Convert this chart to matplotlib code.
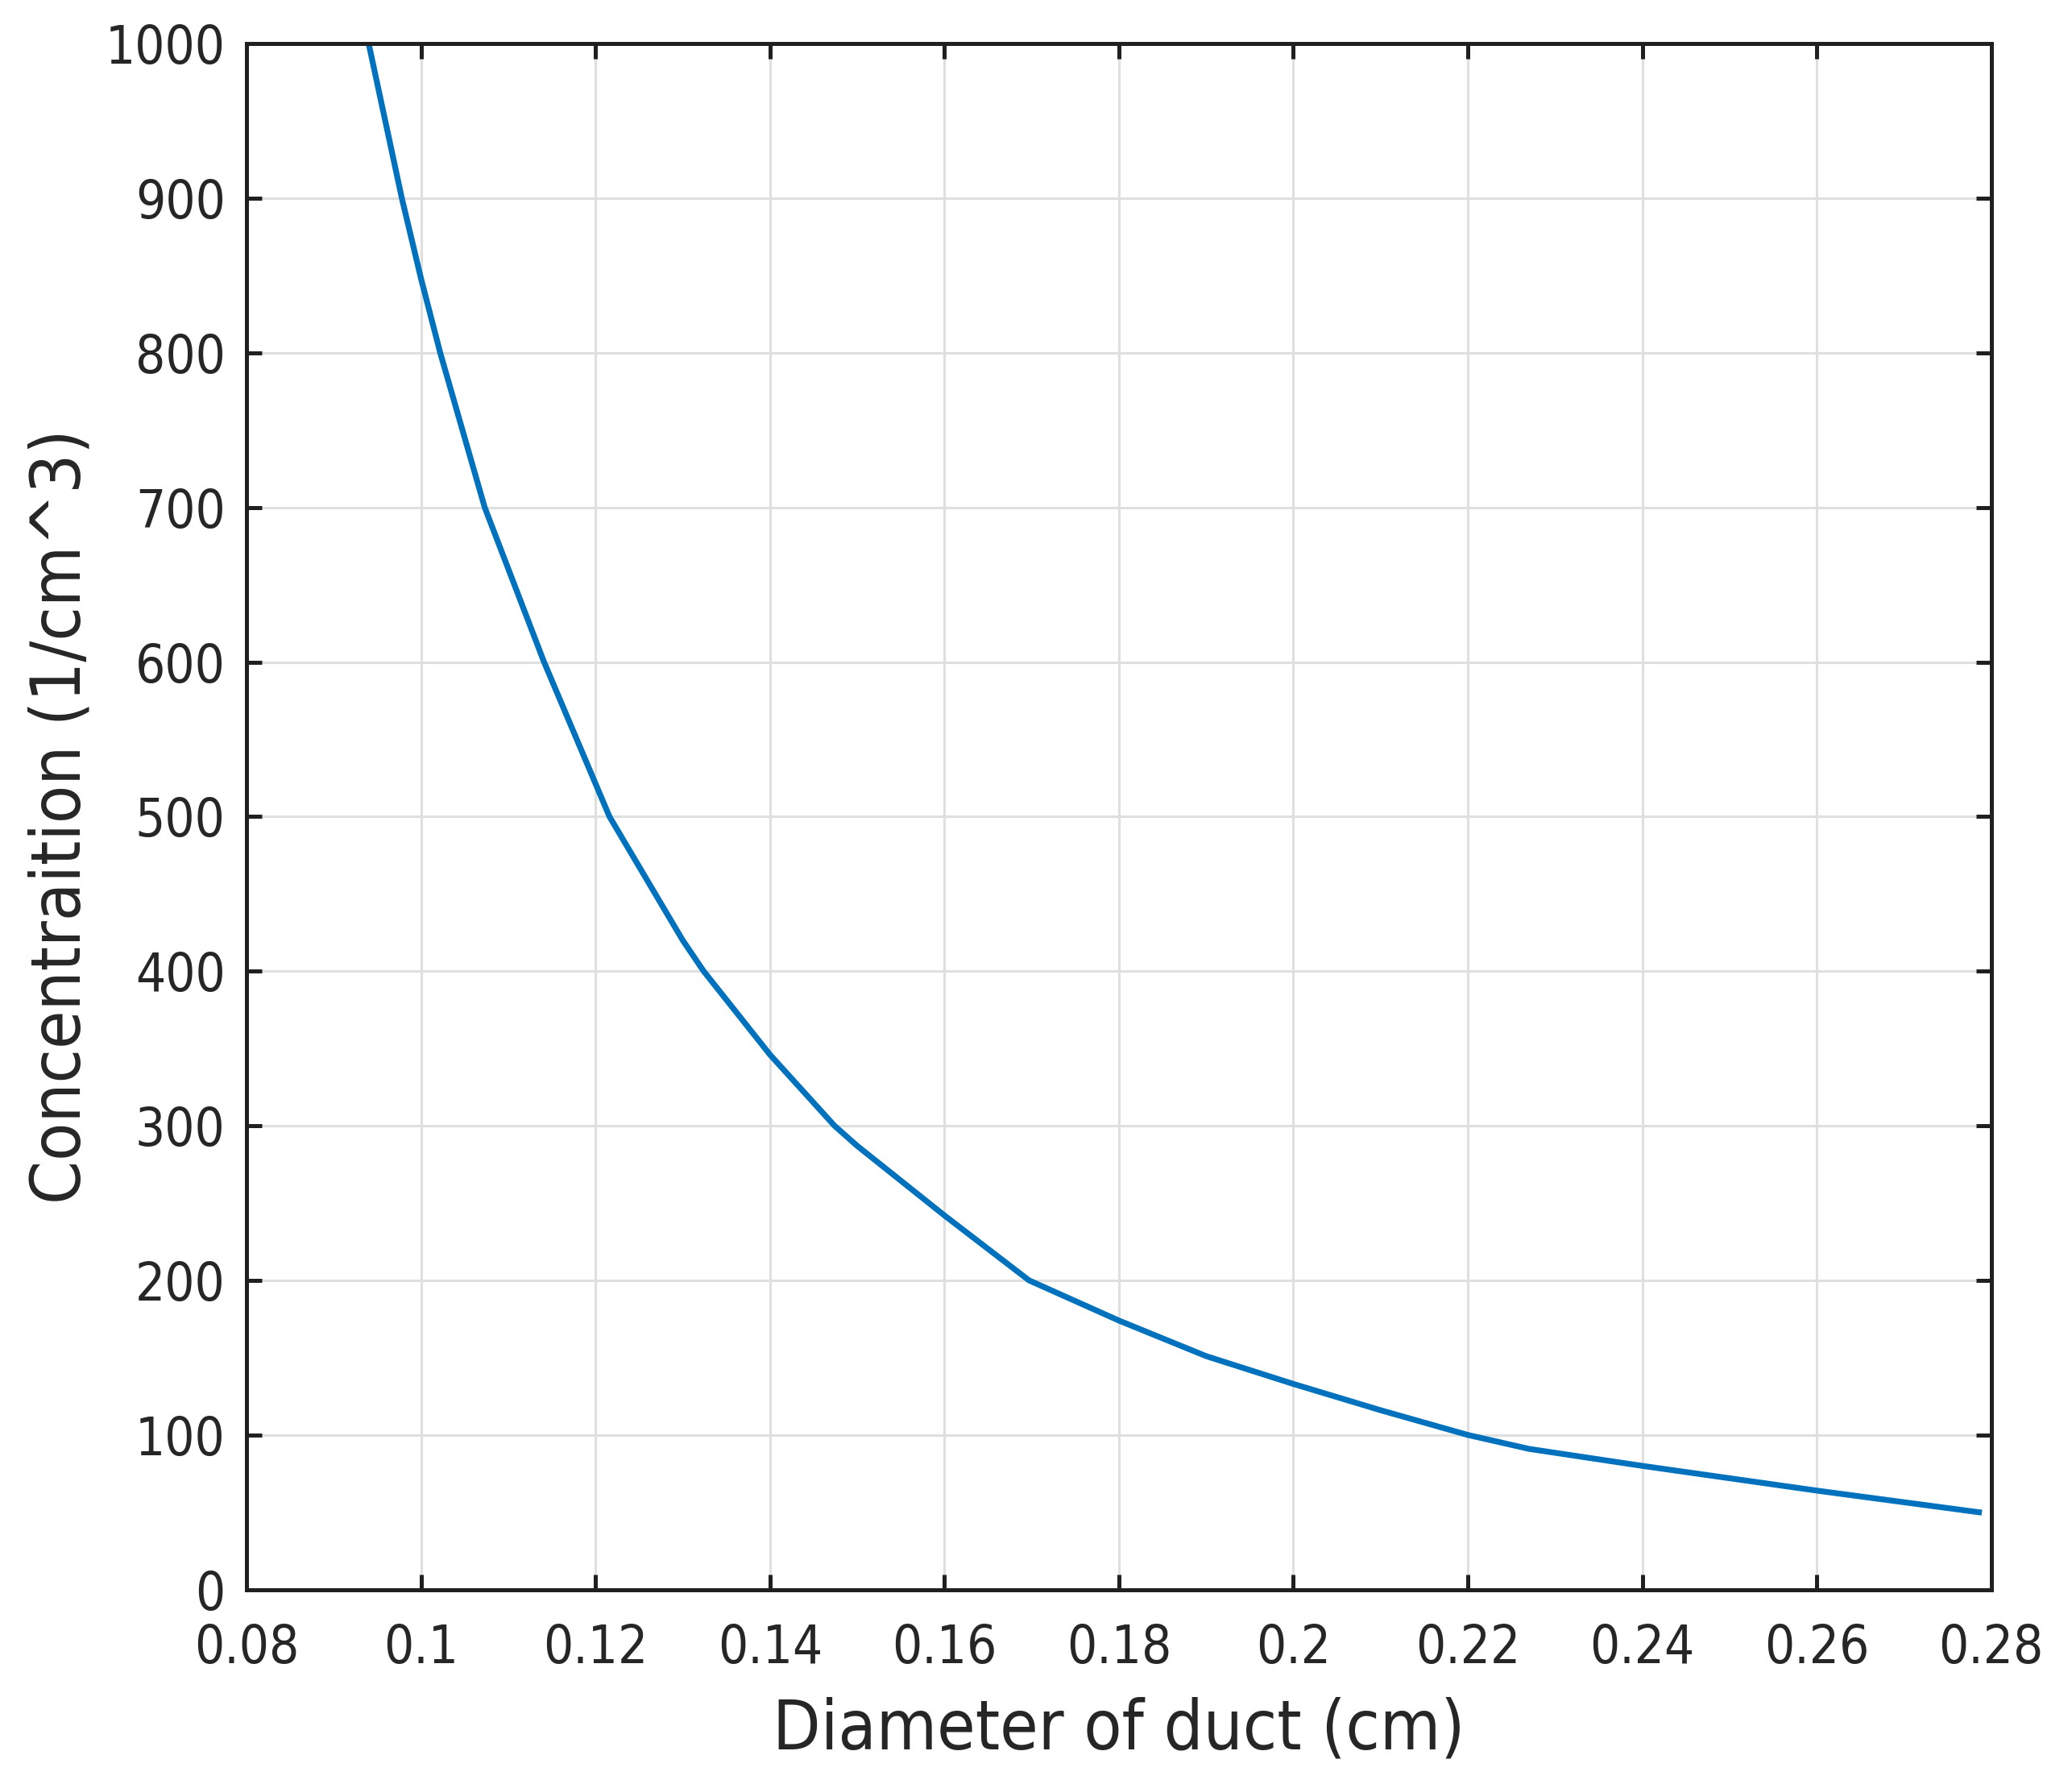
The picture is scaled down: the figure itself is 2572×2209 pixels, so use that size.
import matplotlib
matplotlib.use('Agg')
import matplotlib.pyplot as plt

# curve
diameter = [0.0940, 0.0978, 0.1000, 0.1022, 0.1073, 0.1141, 0.1216, 0.1300,
            0.1324, 0.1400, 0.1474, 0.1500, 0.1600, 0.1697, 0.1800, 0.1900, 0.2000,
            0.2100, 0.2200, 0.2270, 0.2400, 0.2600, 0.2786]
concentration = [1000, 900, 848, 800, 700, 600, 500, 420,
                 400, 346, 300, 287, 242, 200, 174, 151, 133,
                 116, 100, 91, 80, 64, 50]

xticks = [0.08, 0.1, 0.12, 0.14, 0.16, 0.18, 0.2, 0.22, 0.24, 0.26, 0.28]
xtick_labels = ['0.08', '0.1', '0.12', '0.14', '0.16', '0.18', '0.2', '0.22', '0.24', '0.26', '0.28']
yticks = [0, 100, 200, 300, 400, 500, 600, 700, 800, 900, 1000]

plt.rcParams['font.family'] = ['DejaVu Sans']
plt.rcParams['font.stretch'] = 'condensed'

fig = plt.figure(figsize=(25.72, 22.09), dpi=100)
ax = fig.add_axes([0.119, 0.107, 0.842, 0.8685])

ax.plot(diameter, concentration, color='#0072BD', linewidth=5.2)

ax.set_xlim(0.08, 0.28)
ax.set_ylim(0, 1000)
ax.set_xticks(xticks)
ax.set_xticklabels(xtick_labels)
ax.set_yticks(yticks)

ax.grid(True, color='#dfdfdf', linewidth=2.2)
ax.set_axisbelow(True)
for s in ax.spines.values():
    s.set_linewidth(3.6)
    s.set_color('#202020')
ax.tick_params(direction='in', length=14, width=3.6, color='#202020',
               top=True, right=True, labelsize=47, labelcolor='#262626')
ax.tick_params(axis='x', pad=30)
ax.tick_params(axis='y', pad=19)

ax.set_xlabel('Diameter of duct (cm)', fontsize=62, color='#262626')
ax.set_ylabel('Concentraition (1/cm^3)', fontsize=62, color='#262626')
ax.xaxis.set_label_coords(0.5, -0.069)
ax.yaxis.set_label_coords(-0.087, 0.5)

fig.savefig('out.png', dpi=100)
